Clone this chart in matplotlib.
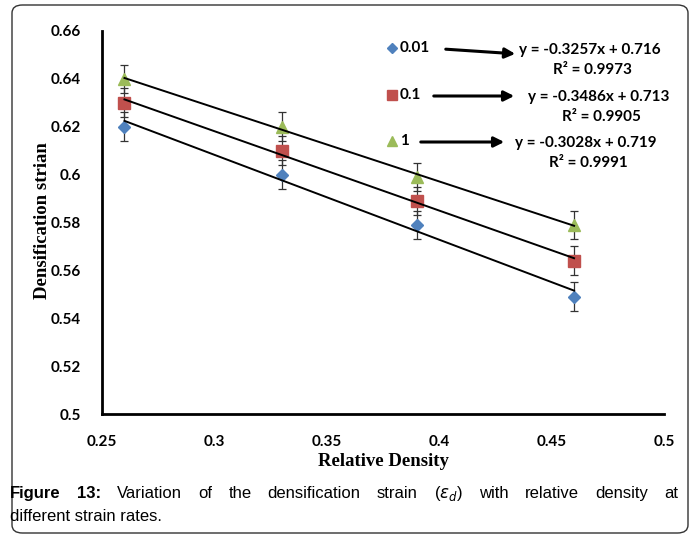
import matplotlib
matplotlib.use("Agg")
import matplotlib.pyplot as plt
import numpy as np
from matplotlib.patches import FancyBboxPatch

# data
density = [0.26, 0.33, 0.39, 0.46]
rates = ["0.01", "0.1", "1"]
strain_001 = [0.62, 0.60, 0.579, 0.549]
strain_01 = [0.63, 0.61, 0.589, 0.564]
strain_1 = [0.64, 0.62, 0.599, 0.579]
err = [0.006, 0.006, 0.006, 0.006]
equations = ["y = -0.3257x + 0.716", "y = -0.3486x + 0.713", "y = -0.3028x + 0.719"]
r2_values = ["R\u00b2 = 0.9973", "R\u00b2 = 0.9905", "R\u00b2 = 0.9991"]

colors = ["#4F81BD", "#C0504D", "#9BBB59"]
markers = ["D", "s", "^"]
msizes = [6.5, 8, 8]

W, H = 695, 536


def fx(px):
    return px / W


def fy(py):
    return 1 - py / H


fig = plt.figure(figsize=(6.95, 5.36), dpi=100)
fig.patches.append(FancyBboxPatch((fx(12), fy(533)), fx(676), 528 / H,
                                  boxstyle="round,pad=0,rounding_size=0.015",
                                  transform=fig.transFigure, fill=False,
                                  edgecolor="#333333", linewidth=1.0))

ax = fig.add_axes([fx(102), fy(414), fx(562), 383 / H])

series = [strain_001, strain_01, strain_1]
for vals, c, m, ms in zip(series, colors, markers, msizes):
    ax.errorbar(density, vals, yerr=err, fmt="none", ecolor="#333333",
                elinewidth=0.9, capsize=3, capthick=0.9, zorder=2)
    ax.plot(density, vals, linestyle="none", marker=m, color=c,
            markersize=ms, zorder=3)
    k, b = np.polyfit(density, vals, 1)
    xs = np.array([density[0], density[-1]])
    ax.plot(xs, k * xs + b, color="black", linewidth=1.4, zorder=4)

ax.set_xlim(0.25, 0.5)
ax.set_ylim(0.5, 0.66)
ax.set_xticks([0.25, 0.3, 0.35, 0.4, 0.45, 0.5])
ax.set_xticklabels(["0.25", "0.3", "0.35", "0.4", "0.45", "0.5"])
ax.set_yticks(np.arange(0.5, 0.661, 0.02))
ax.set_yticklabels(["0.5", "0.52", "0.54", "0.56", "0.58", "0.6", "0.62", "0.64", "0.66"])
for t in ax.get_xticklabels() + ax.get_yticklabels():
    t.set_fontfamily("Lato")
    t.set_fontweight("bold")
    t.set_fontsize(11)
ax.tick_params(length=0, pad=15)
ax.tick_params(axis="x", pad=15)
for s in ["top", "right"]:
    ax.spines[s].set_visible(False)
for s in ["left", "bottom"]:
    ax.spines[s].set_linewidth(2)

fig.text(fx(43), fy(221), "Densification strian", rotation=90, ha="center",
         va="center", family="Liberation Serif", fontweight="bold", fontsize=13.5)
fig.text(fx(383), fy(462), "Relative Density", ha="center", va="center",
         family="Liberation Serif", fontweight="bold", fontsize=13.5)

# legend-like annotations with arrows to the equations
rows_y = [48, 95, 141]
arrow_from = [443, 431, 418]
arrow_to = [518, 517, 507]
eq_x = [590, 599, 586]
for i in range(3):
    fig.lines.append(plt.Line2D([fx(392)], [fy(rows_y[i])], marker=markers[i],
                                color=colors[i], markersize=msizes[i] - 1.5,
                                linestyle="none", transform=fig.transFigure))
    fig.text(fx(400), fy(rows_y[i]), rates[i], ha="left", va="center",
             family="Lato", fontweight="bold", fontsize=11)
    dy = 5 if i == 0 else 0
    ax.annotate("", xy=(fx(arrow_to[i]), fy(rows_y[i] + 1 + dy)),
                xytext=(fx(arrow_from[i]), fy(rows_y[i] + 1)),
                xycoords="figure fraction", textcoords="figure fraction",
                arrowprops=dict(arrowstyle="-|>", color="black", lw=2.2,
                                mutation_scale=15))
    fig.text(fx(eq_x[i]), fy(rows_y[i] + 2), equations[i], ha="center", va="center",
             family="Lato", fontweight="bold", fontsize=11)
    fig.text(fx(eq_x[i] + 2), fy(rows_y[i] + 22), r2_values[i], ha="center",
             va="center", family="Lato", fontweight="bold", fontsize=11)

# caption, first line justified between the border margins
fig.canvas.draw()
renderer = fig.canvas.get_renderer()
words = [("Figure", "bold"), ("13:", "bold"), ("Variation", "normal"), ("of", "normal"),
         ("the", "normal"), ("densification", "normal"), ("strain", "normal"),
         ("($\\epsilon_d$)", "normal"), ("with", "normal"), ("relative", "normal"),
         ("density", "normal"), ("at", "normal")]
objs = []
for w, wt in words:
    objs.append(fig.text(0, fy(498), w, ha="left", va="baseline",
                         family="Liberation Sans", fontweight=wt, fontsize=12))
widths = [o.get_window_extent(renderer).width for o in objs]
left, right = 10, 678
gap = (right - left - sum(widths)) / (len(words) - 1)
xpos = left
for o, wd in zip(objs, widths):
    o.set_x(fx(xpos))
    xpos += wd + gap
fig.text(fx(10), fy(521), "different strain rates.", ha="left", va="baseline",
         family="Liberation Sans", fontsize=12)

fig.savefig("out.png", dpi=100)
